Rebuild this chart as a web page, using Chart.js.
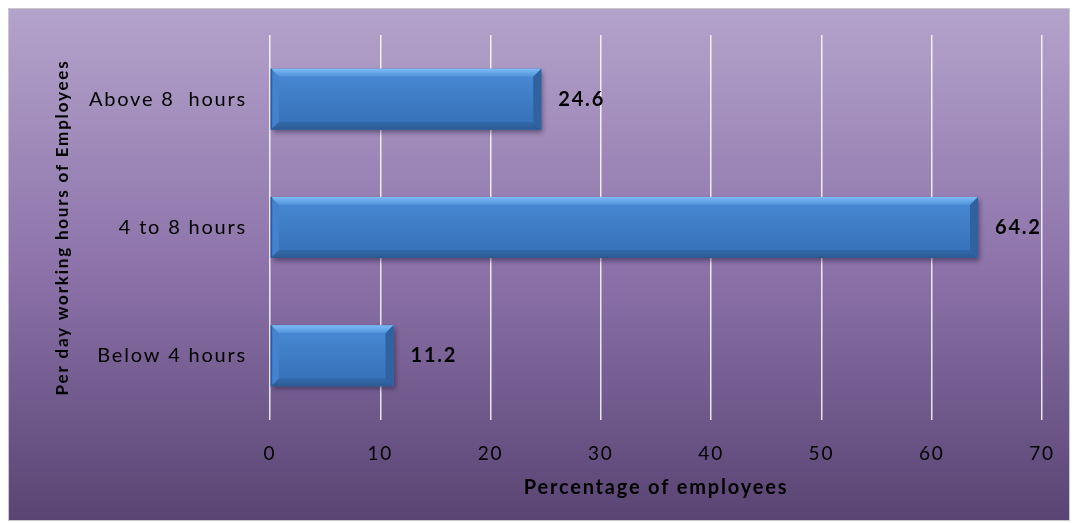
<!DOCTYPE html>
<html>
<head>
<meta charset="utf-8">
<script src="https://cdn.jsdelivr.net/npm/chart.js@4.4.1/dist/chart.umd.min.js"></script>
<style>
  html, body { margin: 0; padding: 0; background: #fff; }
  canvas { display: block; }
</style>
</head>
<body>
<canvas id="hoursChart" width="1075" height="523"></canvas>
<script>
const categories = ['Above 8  hours', '4 to 8 hours', 'Below 4 hours'];
const percentages = [24.6, 64.2, 11.2];
const xMin = 0;
const xMax = 70;
const xStep = 10;

const xTitle = 'Percentage of employees';
const yTitle = 'Per day working hours of Employees';

const canvas = document.getElementById('hoursChart');

// fondo morado con marco gris
const backgroundBox = {
  id: 'backgroundBox',
  beforeDraw(chart) {
    const ctx = chart.ctx;
    ctx.save();
    const grad = ctx.createLinearGradient(0, 8, 0, 521);
    grad.addColorStop(0, '#b4a3cb');
    grad.addColorStop(0.5, '#8d73aa');
    grad.addColorStop(1, '#594473');
    ctx.fillStyle = grad;
    ctx.fillRect(8, 8, 1062, 513);
    ctx.strokeStyle = '#c9c6cc';
    ctx.lineWidth = 1;
    ctx.strokeRect(8.5, 8.5, 1061, 512);
    ctx.restore();
    ctx.letterSpacing = '1.8px';
  },
  afterDraw(chart) {
    chart.ctx.letterSpacing = '0px';
  }
};

// barras con efecto bisel + etiquetas
const bevelBars = {
  id: 'bevelBars',
  beforeDatasetsDraw(chart) {
    const ctx = chart.ctx;
    ctx.save();
    ctx.shadowColor = 'rgba(20, 10, 40, 0.45)';
    ctx.shadowBlur = 5;
    ctx.shadowOffsetX = 2;
    ctx.shadowOffsetY = 3;
  },
  afterDatasetsDraw(chart) {
    const ctx = chart.ctx;
    ctx.restore();
    const meta = chart.getDatasetMeta(0);
    const b = 8;

    meta.data.forEach((bar, i) => {
      const left = bar.base;
      const right = bar.x;
      const top = bar.y - bar.height / 2;
      const bottom = bar.y + bar.height / 2;

      ctx.save();
      const face = ctx.createLinearGradient(0, top, 0, bottom);
      face.addColorStop(0, '#4a8ad6');
      face.addColorStop(1, '#346fb6');
      ctx.fillStyle = face;
      ctx.fillRect(left + b, top + b, right - left - 2 * b, bottom - top - 2 * b);

      // arriba
      const topGrad = ctx.createLinearGradient(0, top, 0, top + b);
      topGrad.addColorStop(0, '#7dbcf6');
      topGrad.addColorStop(1, '#4f90da');
      ctx.fillStyle = topGrad;
      ctx.beginPath();
      ctx.moveTo(left, top);
      ctx.lineTo(right, top);
      ctx.lineTo(right - b, top + b);
      ctx.lineTo(left + b, top + b);
      ctx.closePath();
      ctx.fill();

      // abajo
      const botGrad = ctx.createLinearGradient(0, bottom - b, 0, bottom);
      botGrad.addColorStop(0, '#3369ab');
      botGrad.addColorStop(1, '#2a5a92');
      ctx.fillStyle = botGrad;
      ctx.beginPath();
      ctx.moveTo(left, bottom);
      ctx.lineTo(right, bottom);
      ctx.lineTo(right - b, bottom - b);
      ctx.lineTo(left + b, bottom - b);
      ctx.closePath();
      ctx.fill();

      // derecha
      ctx.fillStyle = '#2f629f';
      ctx.beginPath();
      ctx.moveTo(right, top);
      ctx.lineTo(right, bottom);
      ctx.lineTo(right - b, bottom - b);
      ctx.lineTo(right - b, top + b);
      ctx.closePath();
      ctx.fill();

      // izquierda
      ctx.fillStyle = '#4383cf';
      ctx.beginPath();
      ctx.moveTo(left, top);
      ctx.lineTo(left, bottom);
      ctx.lineTo(left + b, bottom - b);
      ctx.lineTo(left + b, top + b);
      ctx.closePath();
      ctx.fill();

      ctx.fillStyle = '#2c5f9a';
      ctx.fillRect(left, top, 1.5, bottom - top);

      // valor
      ctx.font = 'bold 20px Lato';
      ctx.fillStyle = '#000';
      ctx.textAlign = 'left';
      ctx.textBaseline = 'middle';
      ctx.fillText(percentages[i].toFixed(1), right + 17, bar.y);
      ctx.restore();
    });
  }
};

new Chart(canvas, {
  type: 'bar',
  data: {
    labels: categories,
    datasets: [{
      data: percentages,
      backgroundColor: '#3d7bc6',
      borderWidth: 0,
      barPercentage: 0.95,
      categoryPercentage: 0.5
    }]
  },
  options: {
    indexAxis: 'y',
    responsive: false,
    animation: false,
    devicePixelRatio: 1,
    layout: {
      padding: { top: 35, right: 33, bottom: 0, left: 0 }
    },
    plugins: {
      legend: { display: false },
      tooltip: { enabled: false }
    },
    scales: {
      x: {
        min: xMin,
        max: xMax,
        ticks: {
          stepSize: xStep,
          color: '#000',
          font: { family: 'Lato', size: 19 },
          padding: 22
        },
        grid: {
          color: 'rgba(255, 255, 255, 0.85)',
          lineWidth: 1.5,
          drawTicks: false
        },
        border: { display: false },
        title: {
          display: true,
          text: xTitle,
          color: '#000',
          font: { family: 'Lato', size: 20, weight: 'bold' },
          padding: { top: 0, bottom: 23 }
        },
        afterFit(scale) {
          scale.height = 103;
        }
      },
      y: {
        ticks: {
          color: '#000',
          font: { family: 'Lato', size: 20 },
          padding: 15
        },
        grid: { display: false },
        border: { display: false },
        title: {
          display: true,
          text: yTitle,
          color: '#000',
          font: { family: 'Lato', size: 17, weight: 'bold' },
          padding: { top: 52, bottom: 0 }
        },
        afterFit(scale) {
          scale.width = 270;
        }
      }
    }
  },
  plugins: [backgroundBox, bevelBars]
});
</script>
</body>
</html>
